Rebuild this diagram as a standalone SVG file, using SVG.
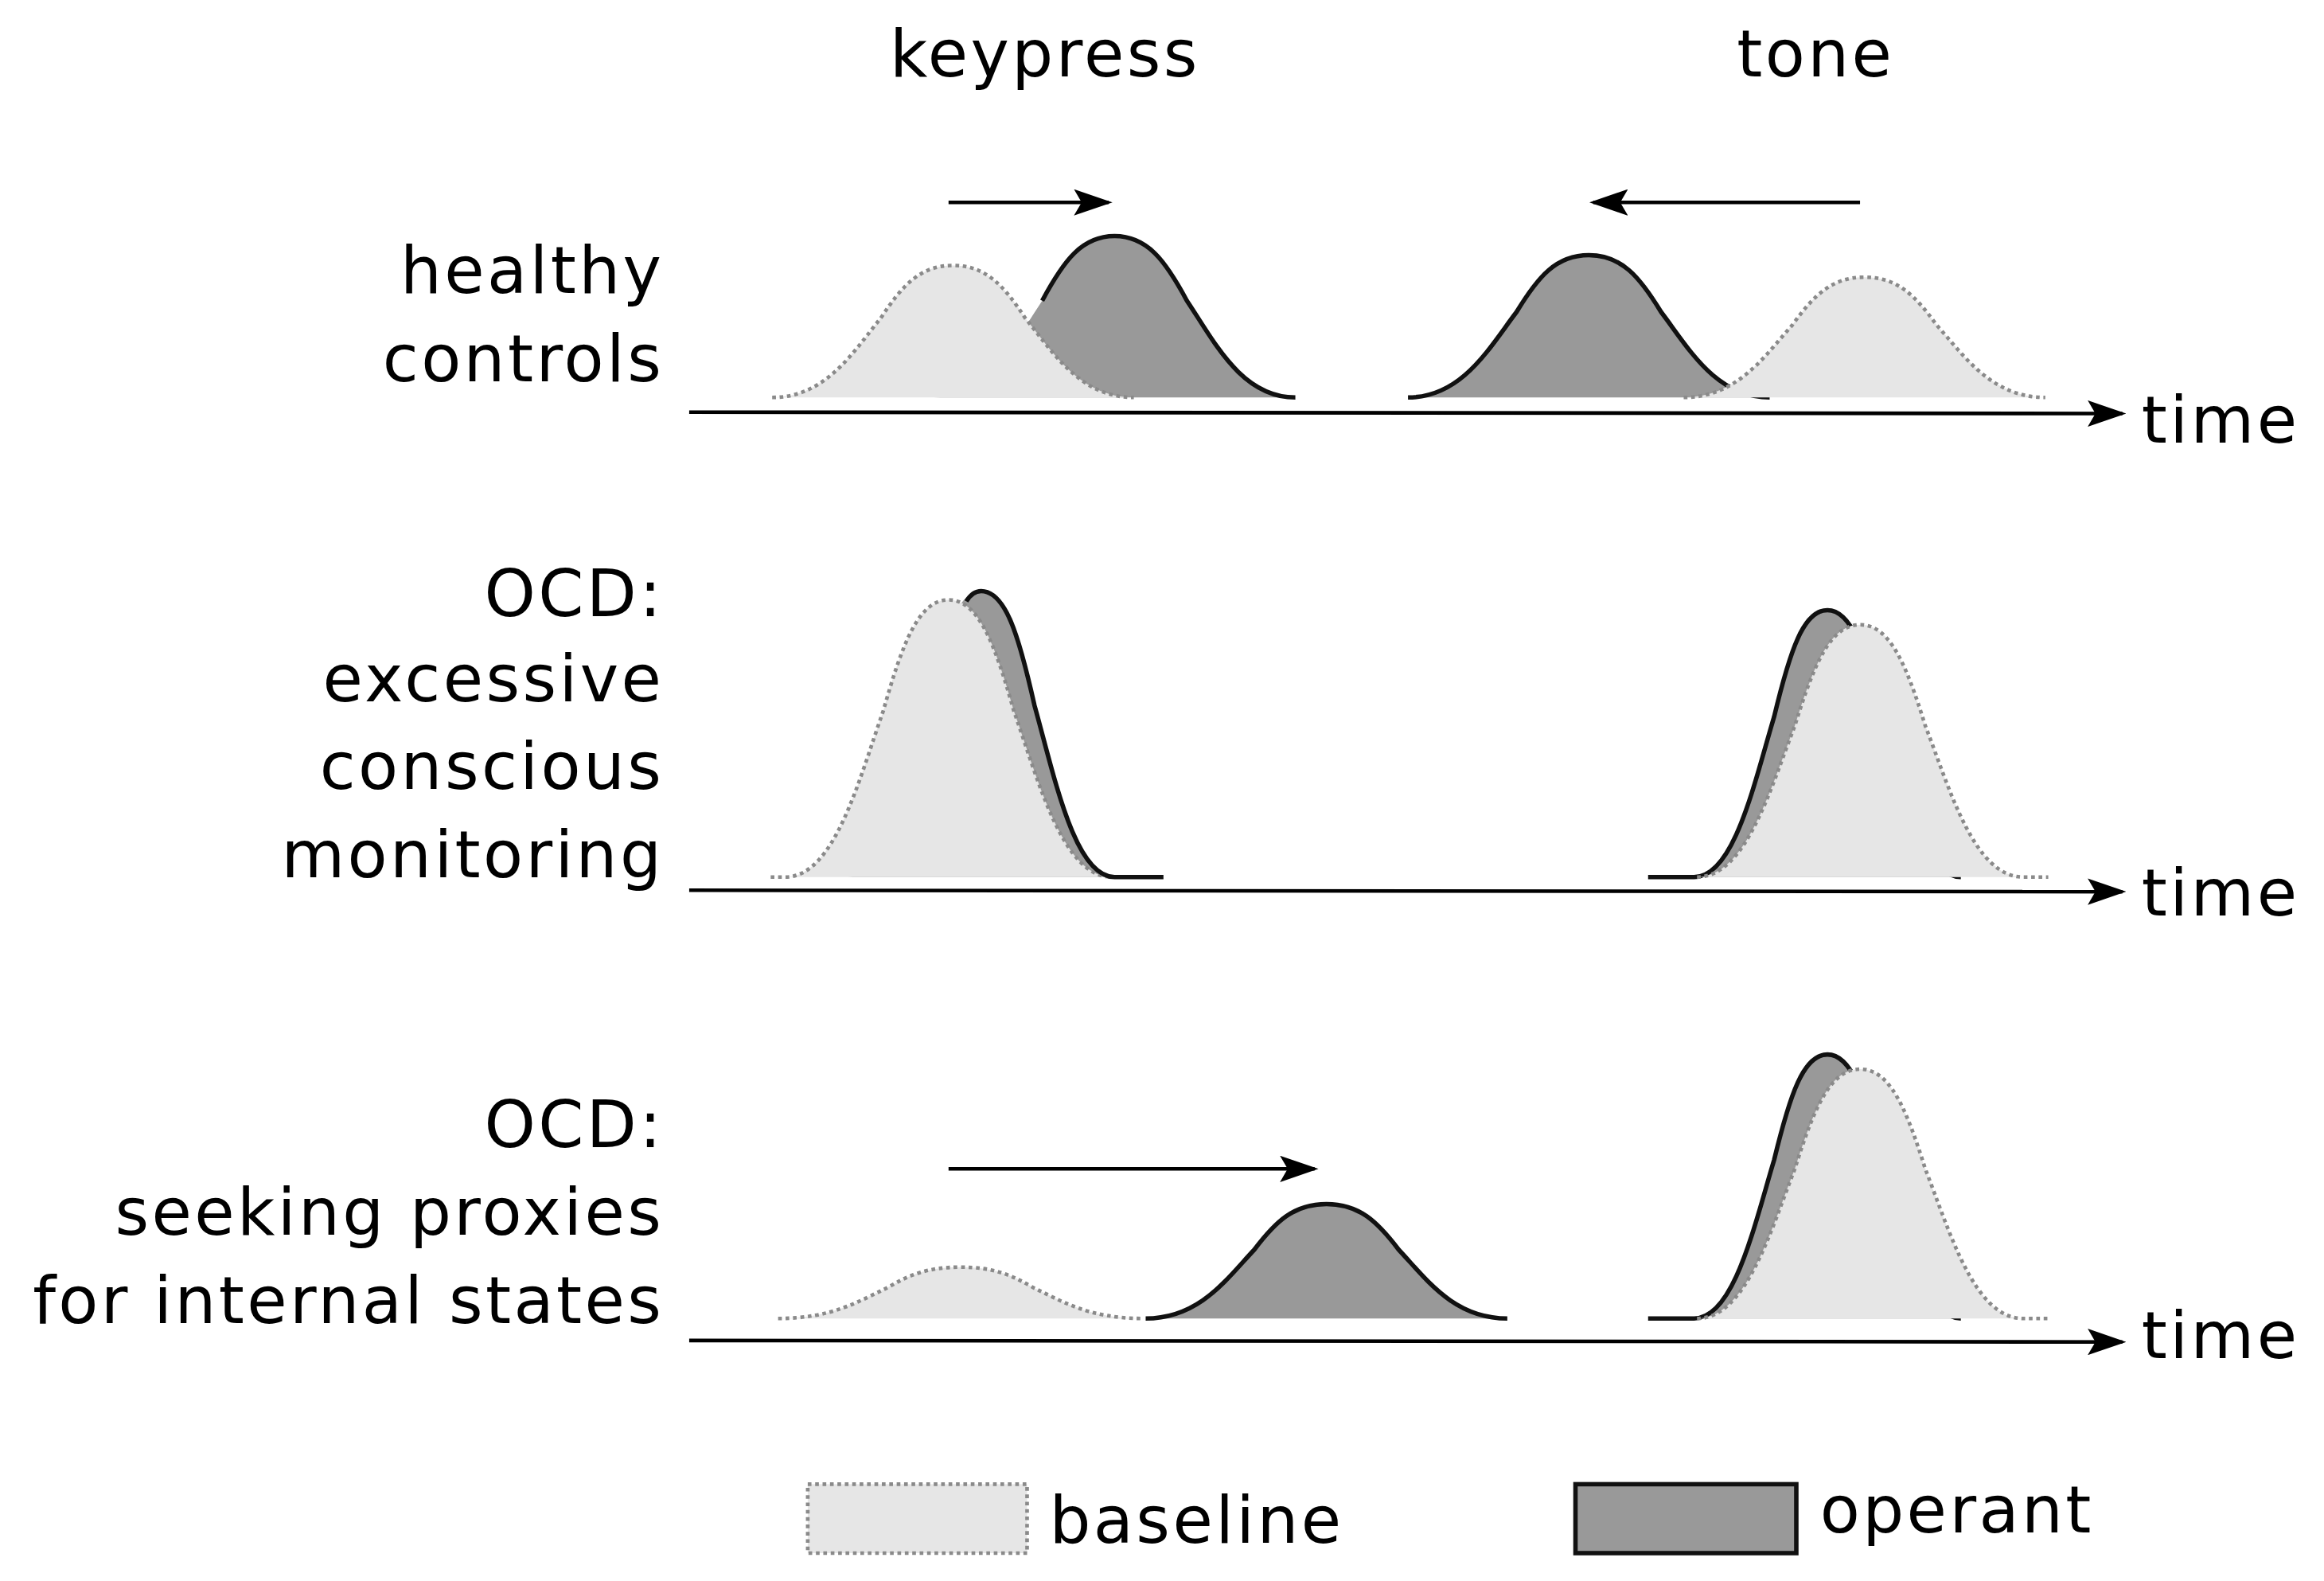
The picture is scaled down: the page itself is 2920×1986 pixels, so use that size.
<svg xmlns="http://www.w3.org/2000/svg" width="2920" height="1986" viewBox="0 0 2920 1986">
<defs>
<style>
.b{fill:#e6e6e6;stroke:#8a8a8a;stroke-width:2.5;stroke-dasharray:2.5 2.5}
.of{fill:#999999;stroke:none}
.os{fill:none;stroke:#111;stroke-width:3}
.o{fill:#999999;stroke:#111;stroke-width:3}
.ax{stroke:#000;stroke-width:2.5;fill:none}
.t{font-family:"DejaVu Sans",Verdana,sans-serif;font-size:44px;letter-spacing:1.8px;fill:#000}
.r{text-anchor:end}
</style>
<marker id="ah2" viewBox="0 0 10 10" refX="9" refY="5" markerWidth="26" markerHeight="18" markerUnits="userSpaceOnUse" orient="auto" preserveAspectRatio="none"><path d="M0,0 L10,5 L0,10 L2,5 Z" fill="#000"/></marker>
</defs>
<rect width="2920" height="1986" fill="#fff"/>
<g transform="scale(1.8622,1.8423)">
<g id="labels">
<text class="t" x="705" y="52" text-anchor="middle">keypress</text>
<text class="t" x="1225" y="52" text-anchor="middle">tone</text>
<text class="t r" x="448" y="200">healthy</text>
<text class="t r" x="448" y="260">controls</text>
<text class="t r" x="448" y="420">OCD:</text>
<text class="t r" x="448" y="478">excessive</text>
<text class="t r" x="448" y="538">conscious</text>
<text class="t r" x="448" y="598">monitoring</text>
<text class="t r" x="448" y="782">OCD:</text>
<text class="t r" x="448" y="842">seeking proxies</text>
<text class="t r" x="448" y="902">for internal states</text>
<text class="t" x="1445" y="302">time</text>
<text class="t" x="1445" y="624">time</text>
<text class="t" x="1445" y="926">time</text>
</g>
<g id="connectors">
<line class="ax" x1="465" y1="281" x2="1432" y2="282" marker-end="url(#ah2)"/>
<line class="ax" x1="465" y1="607" x2="1432" y2="608" marker-end="url(#ah2)"/>
<line class="ax" x1="465" y1="914" x2="1432" y2="915" marker-end="url(#ah2)"/>
<line class="ax" x1="640" y1="138" x2="748" y2="138" marker-end="url(#ah2)"/>
<line class="ax" x1="1255" y1="138" x2="1075" y2="138" marker-end="url(#ah2)"/>
<line class="ax" x1="640" y1="797" x2="887" y2="797" marker-end="url(#ah2)"/>
</g>
<g id="row1">
<path class="of" d="M630,271 C666.6,271 684.9,232.5 703.2,205 C717.8,177.5 730,161 752,161 C774,161 786.2,177.5 800.8,205 C819.1,232.5 837.4,271 874,271 Z"/>
<path class="b" d="M521,271 C557.6,271 575.9,239.5 594.2,217 C608.8,194.5 621,181 643,181 C665,181 677.2,194.5 691.8,217 C710.1,239.5 728.4,271 765,271"/>
<path class="os" d="M703.2,205 C717.8,177.5 730,161 752,161 C774,161 786.2,177.5 800.8,205 C819.1,232.5 837.4,271 874,271"/>
<path class="o" d="M950,271 C986.6,271 1004.9,237 1023.2,212.8 C1037.8,188.5 1050,174 1072,174 C1094,174 1106.2,188.5 1120.8,212.8 C1139.1,237 1157.4,271 1194,271"/>
<path class="b" d="M1136,271 C1172.6,271 1190.9,242.3 1209.2,221.8 C1223.8,201.3 1236,189 1258,189 C1280,189 1292.2,201.3 1306.8,221.8 C1325.1,242.3 1343.4,271 1380,271"/>
</g>
<g id="row2">
<path class="of" d="M572,598 C599,598 612.5,529.7 626,481 C636.8,432.2 645.8,403 662,403 C678.2,403 687.2,432.2 698,481 C711.5,529.7 725,598 752,598 Z"/>
<path class="b" d="M520,598 L530,598 C563,598 579.5,531.8 596,484.6 C609.2,437.3 620.2,409 640,409 C659.8,409 670.8,437.3 684,484.6 C700.5,531.8 717,598 750,598"/>
<path class="os" d="M652,410 C655,405 658,403 662,403 C678.2,403 687.2,432.2 698,481 C711.5,529.7 725,598 752,598 L785,598"/>
<path class="o" d="M1112,598 L1143,598 C1170,598 1183.5,534.3 1197,488.8 C1207.8,443.3 1216.8,416 1233,416 C1249.2,416 1258.2,443.3 1269,488.8 C1282.5,534.3 1296,598 1323,598"/>
<path class="b" d="M1145,598 C1178,598 1194.5,537.8 1211,494.8 C1224.2,451.8 1235.2,426 1255,426 C1274.8,426 1285.8,451.8 1299,494.8 C1315.5,537.8 1332,598 1365,598 L1382,598"/>
</g>
<g id="row3">
<path class="b" d="M525,899 C561.9,899 580.3,886.7 598.8,878 C613.6,869.2 625.9,864 648,864 C670.1,864 682.4,869.2 697.2,878 C715.7,886.7 734.1,899 771,899"/>
<path class="o" d="M773,899 C809.6,899 827.9,871.7 846.2,852.2 C860.8,832.7 873,821 895,821 C917,821 929.2,832.7 943.8,852.2 C962.1,871.7 980.4,899 1017,899"/>
<path class="o" d="M1112,899 L1143,899 C1170,899 1183.5,836 1197,791 C1207.8,746 1216.8,719 1233,719 C1249.2,719 1258.2,746 1269,791 C1282.5,836 1296,899 1323,899"/>
<path class="b" d="M1145,899 C1178,899 1194.5,839.5 1211,797 C1224.2,754.5 1235.2,729 1255,729 C1274.8,729 1285.8,754.5 1299,797 C1315.5,839.5 1332,899 1365,899 L1382,899"/>
</g>
<g id="legend">
<rect class="b" x="545" y="1012" width="148" height="47"/>
<text class="t" x="708" y="1052">baseline</text>
<rect class="o" x="1063" y="1012" width="149" height="47"/>
<text class="t" x="1228" y="1045">operant</text>
</g>
</g>
</svg>
